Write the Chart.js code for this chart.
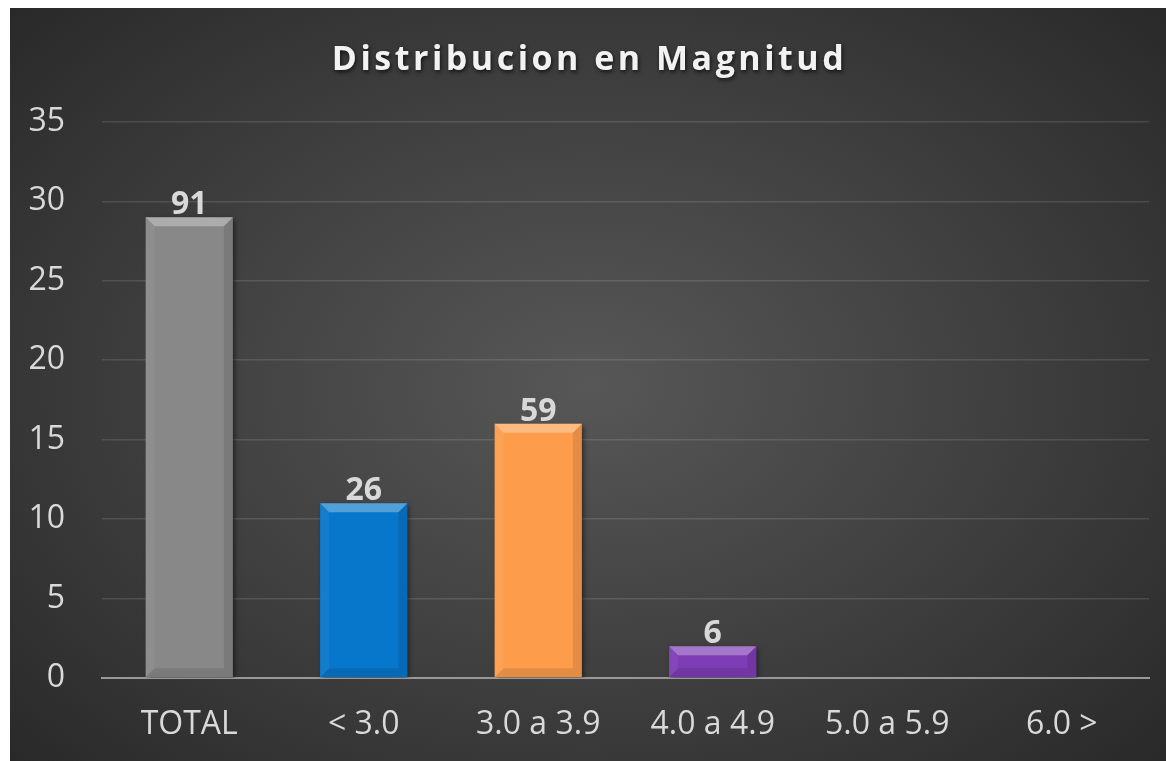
<!DOCTYPE html>
<html>
<head>
<meta charset="utf-8">
<script src="https://cdn.jsdelivr.net/npm/chart.js@4.4.1/dist/chart.umd.min.js"></script>
<style>
  html, body { margin: 0; padding: 0; background: #ffffff; }
  #wrap {
    position: absolute; left: 10px; top: 8px; width: 1156px; height: 753px;
    background: radial-gradient(ellipse 70% 75% at 50% 50%, #575757 0%, #404040 50%, #282828 100%);
  }
  canvas { display: block; }
</style>
</head>
<body>
<div id="wrap"><canvas id="c" width="1156" height="753"></canvas></div>
<script>
const categories = ["TOTAL", "< 3.0", "3.0 a 3.9", "4.0 a 4.9", "5.0 a 5.9", "6.0 >"];
const barHeights = [29, 11, 16, 2, 0, 0];
const barLabels = ["91", "26", "59", "6", "", ""];
const barColors = ["#888888", "#0777cb", "#fd9c4b", "#7e3db5", "#888888", "#888888"];
const yTicks = [0, 5, 10, 15, 20, 25, 30, 35];
const titleText = "Distribucion en Magnitud";

const FONT = "'Open Sans', 'DejaVu Sans', sans-serif";

const titlePatch = {
  id: 'titlePatch',
  beforeDraw(chart) {
    const tb = chart.titleBlock;
    if (tb && !tb._patched) {
      const orig = tb.draw.bind(tb);
      tb.draw = function () {
        const ctx = chart.ctx;
        ctx.save();
        ctx.translate(10, 0);
        ctx.letterSpacing = '3.5px';
        ctx.shadowColor = 'rgba(0,0,0,0.7)';
        ctx.shadowBlur = 4;
        ctx.shadowOffsetX = 1;
        ctx.shadowOffsetY = 2;
        orig();
        ctx.restore();
      };
      tb._patched = true;
    }
  }
};

const bevel = {
  id: 'bevel',
  beforeDatasetsDraw(chart) {
    const ctx = chart.ctx;
    ctx.save();
    ctx.shadowColor = 'rgba(0,0,0,0.55)';
    ctx.shadowBlur = 5;
    ctx.shadowOffsetX = 2;
    ctx.shadowOffsetY = 2;
  },
  afterDatasetsDraw(chart) {
    const ctx = chart.ctx;
    ctx.restore();
    const meta = chart.getDatasetMeta(0);
    meta.data.forEach((bar, i) => {
      const p = bar.getProps(['x', 'y', 'base', 'width'], true);
      const h = p.base - p.y;
      if (h <= 0.5) return;
      const l = p.x - p.width / 2, r = p.x + p.width / 2, t = p.y, b = p.base;
      const d = Math.min(9, h / 2.5);
      ctx.save();
      ctx.fillStyle = 'rgba(255,255,255,0.3)';
      ctx.beginPath(); ctx.moveTo(l, t); ctx.lineTo(r, t); ctx.lineTo(r - d, t + d); ctx.lineTo(l + d, t + d); ctx.closePath(); ctx.fill();
      ctx.fillStyle = 'rgba(255,255,255,0.05)';
      ctx.beginPath(); ctx.moveTo(l, t); ctx.lineTo(l + d, t + d); ctx.lineTo(l + d, b - d); ctx.lineTo(l, b); ctx.closePath(); ctx.fill();
      ctx.fillStyle = 'rgba(0,0,0,0.1)';
      ctx.beginPath(); ctx.moveTo(r, t); ctx.lineTo(r - d, t + d); ctx.lineTo(r - d, b - d); ctx.lineTo(r, b); ctx.closePath(); ctx.fill();
      ctx.fillStyle = 'rgba(0,0,0,0.1)';
      ctx.beginPath(); ctx.moveTo(l, b); ctx.lineTo(r, b); ctx.lineTo(r - d, b - d); ctx.lineTo(l + d, b - d); ctx.closePath(); ctx.fill();
      ctx.restore();
      const txt = barLabels[i];
      if (txt) {
        ctx.save();
        ctx.font = "bold 32px " + FONT;
        ctx.fillStyle = '#d9d9d9';
        ctx.textAlign = 'center';
        ctx.textBaseline = 'alphabetic';
        ctx.fillText(txt, p.x, p.y - 3);
        ctx.restore();
      }
    });
  }
};

new Chart(document.getElementById('c'), {
  type: 'bar',
  data: {
    labels: categories,
    datasets: [{
      data: barHeights,
      backgroundColor: barColors,
      borderWidth: 0,
      barPercentage: 0.5,
      categoryPercentage: 1.0
    }]
  },
  options: {
    responsive: false,
    animation: false,
    events: [],
    layout: { padding: { left: 0, right: 17, top: 0, bottom: 0 } },
    plugins: {
      legend: { display: false },
      tooltip: { enabled: false },
      title: {
        display: true,
        text: titleText,
        color: '#f2f2f2',
        font: { family: FONT, size: 34, weight: 'bold', lineHeight: 1.2 },
        padding: { top: 32, bottom: 41 }
      }
    },
    scales: {
      x: {
        grid: { display: false, drawTicks: false },
        border: { display: true, color: '#999999', width: 2 },
        ticks: { color: '#d9d9d9', font: { family: FONT, size: 32 }, padding: 28, maxRotation: 0 },
        afterFit(s) { s.height = 83; }
      },
      y: {
        min: 0, max: 35,
        afterBuildTicks(s) { s.ticks = yTicks.map(v => ({ value: v })); },
        grid: { color: 'rgba(255,255,255,0.12)', lineWidth: 1.5, drawTicks: false },
        border: { display: false },
        ticks: { color: '#d9d9d9', font: { family: FONT, size: 32 }, padding: 37 },
        afterFit(s) { s.width = 92; }
      }
    }
  },
  plugins: [titlePatch, bevel]
});
</script>
</body>
</html>
